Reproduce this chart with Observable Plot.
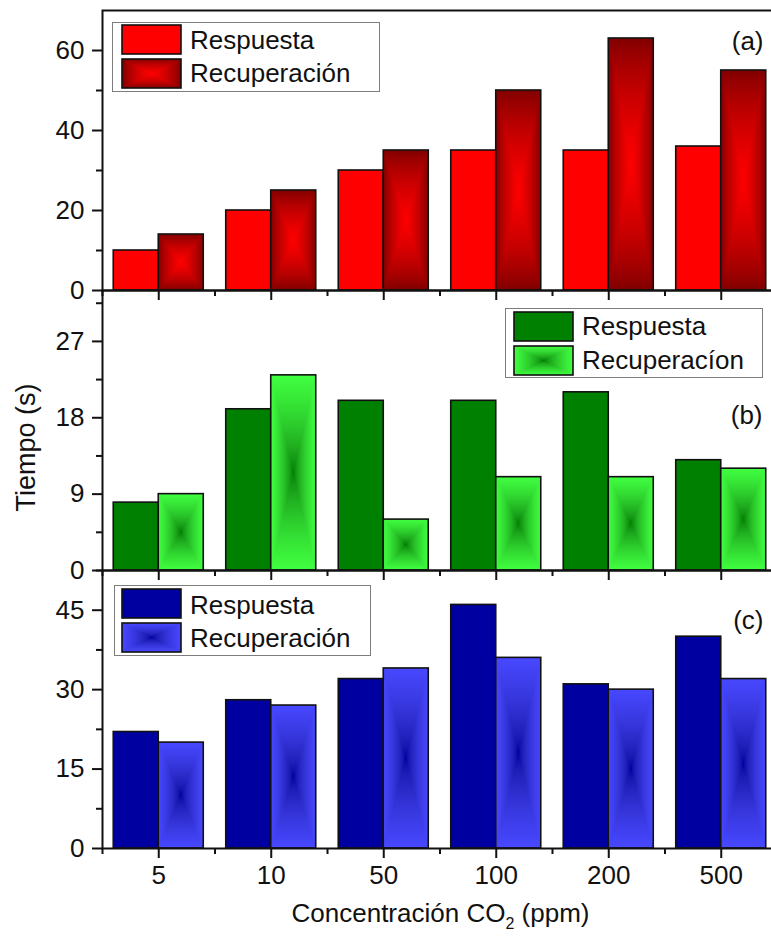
<!DOCTYPE html>
<html>
<head>
<meta charset="utf-8">
<script src="https://cdn.jsdelivr.net/npm/d3@7"></script>
<script src="https://cdn.jsdelivr.net/npm/@observablehq/plot@0.6"></script>
<style>
  body { margin: 0; background: #fff; overflow: hidden; }
  #chart { position: relative; width: 771px; height: 937px; overflow: hidden;
           font-family: "Liberation Sans", Arial, sans-serif; color: #111; }
  #chart > svg { position: absolute; left: 0; }
  .legend { position: absolute; box-sizing: border-box; border: 1px solid #7d7d7d; background: #fff; }
  .legend svg { position: absolute; }
  .legend span { position: absolute; font-size: 26px; line-height: 26px; white-space: nowrap; }
  #xtitle { position: absolute; left: 0; width: 881px; top: 900px; text-align: center;
            font-size: 26px; line-height: 26px; white-space: nowrap; }
  #xtitle sub { font-size: 16px; vertical-align: -7px; line-height: 0; }
</style>
</head>
<body>
<div id="chart"></div>
<script>
// Concentraciones de CO2 ensayadas (ppm)
const concentraciones = ["5", "10", "50", "100", "200", "500"];

// (a) tiempos en segundos
const respuestaA    = [10, 20, 30, 35, 35, 36];
const recuperacionA = [14, 25, 35, 50, 63, 55];
// (b)
const respuestaB    = [8, 19, 20, 20, 21, 13];
const recuperacionB = [9, 23, 6, 11, 11, 12];
// (c)
const respuestaC    = [22, 28, 32, 46, 31, 40];
const recuperacionC = [20, 27, 34, 36, 30, 32];

// Marcas del eje Y de cada panel
const ticksA = [0, 20, 40, 60],  menoresA = [10, 30, 50],            dominioA = [0, 70];
const ticksB = [0, 9, 18, 27],   menoresB = [4.5, 13.5, 22.5, 31.5], dominioB = [0, 33];
const ticksC = [0, 15, 30, 45],  menoresC = [7.5, 22.5, 37.5, 52.5], dominioC = [0, 52.5];

// ---- Rellenos con degradado rectangular (borde -> centro) ----
const defs = d3.select("body").append("svg")
  .attr("width", 0).attr("height", 0)
  .style("position", "absolute").style("left", 0).style("top", 0)
  .append("defs");

const toLin = c => { c /= 255; return c <= 0.04045 ? c / 12.92 : Math.pow((c + 0.055) / 1.055, 2.4); };
const toSrgb = v => 255 * (v <= 0.0031308 ? 12.92 * v : 1.055 * Math.pow(v, 1 / 2.4) - 0.055);
function mezcla(a, b, t) {
  const A = d3.rgb(a), B = d3.rgb(b);
  const f = k => Math.round(toSrgb(toLin(A[k]) * (1 - t) + toLin(B[k]) * t));
  return d3.rgb(f("r"), f("g"), f("b")).formatHex();
}

function degradadoCaja(id, borde, centro) {
  const pasos = d3.range(0, 11).map(k => k / 10);
  const dirs = { top: [0, 0, 0, 1], bottom: [0, 1, 0, 0], left: [0, 0, 1, 0], right: [1, 0, 0, 0] };
  for (const [k, [x1, y1, x2, y2]] of Object.entries(dirs)) {
    const g = defs.append("linearGradient").attr("id", `${id}-${k}`)
      .attr("x1", x1).attr("y1", y1).attr("x2", x2).attr("y2", y2);
    pasos.forEach(t => g.append("stop").attr("offset", t).attr("stop-color", mezcla(borde, centro, t)));
  }
  const p = defs.append("pattern").attr("id", id)
    .attr("patternUnits", "objectBoundingBox").attr("patternContentUnits", "objectBoundingBox")
    .attr("width", 1).attr("height", 1);
  const tri = { top: "0,0 1,0 0.5,0.5", bottom: "0,1 1,1 0.5,0.5", left: "0,0 0,1 0.5,0.5", right: "1,0 1,1 0.5,0.5" };
  for (const k of ["left", "right", "top", "bottom"]) {
    p.append("polygon").attr("points", tri[k]).attr("fill", `url(#${id}-${k})`)
      .attr("shape-rendering", "crispEdges");
  }
}
degradadoCaja("recA", "#800000", "#ff0000");
degradadoCaja("recB", "#40ff40", "#008000");
degradadoCaja("recC", "#4848ff", "#0000a0");

// ---- Paneles ----
const chart = document.getElementById("chart");
const indices = d3.range(concentraciones.length);

function panel({ respuesta, recuperacion, dominio, ticks, menores, colorResp, rellenoRec,
                 top, height, marginTop, marginBottom, etiqueta, etqDx, etqDy, conEtiquetasX, extra = [] }) {
  const filas = indices.flatMap(i => [
    { i, serie: "Respuesta", desde: i - 0.4, hasta: i, valor: respuesta[i] },
    { i, serie: "Recuperación", desde: i, hasta: i + 0.4, valor: recuperacion[i] }
  ]);
  const svg = Plot.plot({
    width: 771,
    height,
    marginLeft: 102,
    marginRight: -6,
    marginTop,
    marginBottom,
    x: { domain: [-0.5, 5.5] },
    y: { domain: dominio },
    style: {
      background: "transparent",
      overflow: "visible",
      fontFamily: "'Liberation Sans', Arial, sans-serif",
      fontSize: "26px",
      color: "#111"
    },
    marks: [
      Plot.rectY(filas, {
        x1: "desde", x2: "hasta", y1: 0, y2: "valor",
        fill: d => d.serie === "Respuesta" ? colorResp : rellenoRec,
        stroke: "#111", strokeWidth: 1.6
      }),
      Plot.frame({ stroke: "#111", strokeWidth: 2 }),
      Plot.axisY({ ticks, tickSize: 10, tickPadding: 8, strokeWidth: 2, label: null, fontSize: 26 }),
      Plot.axisY({ ticks: menores, tickSize: 6, tickFormat: () => "", strokeWidth: 2, label: null }),
      Plot.axisX({ ticks: indices, tickSize: 10, tickPadding: 7, strokeWidth: 2, label: null, fontSize: 26,
                   tickFormat: conEtiquetasX ? i => concentraciones[i] : () => "" }),
      Plot.axisX({ ticks: d3.range(-0.5, 6, 1), tickSize: 6, tickFormat: () => "", strokeWidth: 2, label: null }),
      Plot.text([etiqueta], { frameAnchor: "top-right", textAnchor: "end", lineAnchor: "middle",
                              dx: etqDx, dy: etqDy, fontSize: 26 }),
      ...extra
    ]
  });
  svg.style.top = top + "px";
  chart.appendChild(svg);
}

panel({ respuesta: respuestaA, recuperacion: recuperacionA, dominio: dominioA, ticks: ticksA, menores: menoresA,
        colorResp: "#ff0000", rellenoRec: "url(#recA)", top: 0, height: 290, marginTop: 10, marginBottom: 0,
        etiqueta: "(a)", etqDx: -14, etqDy: 31, conEtiquetasX: false });

panel({ respuesta: respuestaB, recuperacion: recuperacionB, dominio: dominioB, ticks: ticksB, menores: menoresB,
        colorResp: "#008000", rellenoRec: "url(#recB)", top: 290, height: 280, marginTop: 0, marginBottom: 0,
        etiqueta: "(b)", etqDx: -15, etqDy: 125, conEtiquetasX: false,
        extra: [Plot.text(["Tiempo (s)"], { frameAnchor: "left", textAnchor: "middle", lineAnchor: "middle",
                                             rotate: -90, dx: -76, dy: 17, fontSize: 27 })] });

panel({ respuesta: respuestaC, recuperacion: recuperacionC, dominio: dominioC, ticks: ticksC, menores: menoresC,
        colorResp: "#0000a0", rellenoRec: "url(#recC)", top: 570, height: 330, marginTop: 0, marginBottom: 52,
        etiqueta: "(c)", etqDx: -14, etqDy: 50, conEtiquetasX: true });

// ---- Leyendas ----
function leyenda({ left, top, width, height, colorResp, rellenoRec, textoRec, swX, swY1, swY2, txX, txY1, txY2 }) {
  const box = document.createElement("div");
  box.className = "legend";
  Object.assign(box.style, { left: left + "px", top: top + "px", width: width + "px", height: height + "px" });
  const muestra = (y, fill) => {
    const s = d3.create("svg").attr("width", 62).attr("height", 32)
      .style("left", (swX - left - 2) + "px").style("top", (y - top - 2) + "px");
    s.append("rect").attr("x", 1).attr("y", 1).attr("width", 59).attr("height", 29)
      .attr("fill", fill).attr("stroke", "#111").attr("stroke-width", 1.6);
    box.appendChild(s.node());
  };
  const texto = (y, t) => {
    const sp = document.createElement("span");
    sp.textContent = t;
    sp.style.left = (txX - left - 1) + "px";
    sp.style.top = (y - top - 1 - 12.7) + "px";
    box.appendChild(sp);
  };
  muestra(swY1, colorResp);
  muestra(swY2, rellenoRec);
  texto(txY1, "Respuesta");
  texto(txY2, textoRec);
  chart.appendChild(box);
}

leyenda({ left: 112, top: 22, width: 268, height: 70, colorResp: "#ff0000", rellenoRec: "url(#recA)",
          textoRec: "Recuperación", swX: 122, swY1: 25, swY2: 59, txX: 190, txY1: 40, txY2: 73 });
leyenda({ left: 505, top: 308, width: 258, height: 70, colorResp: "#008000", rellenoRec: "url(#recB)",
          textoRec: "Recuperacíon", swX: 514, swY1: 312, swY2: 346, txX: 582, txY1: 326, txY2: 360 });
leyenda({ left: 114, top: 585, width: 257, height: 71, colorResp: "#0000a0", rellenoRec: "url(#recC)",
          textoRec: "Recuperación", swX: 122, swY1: 589, swY2: 623, txX: 190, txY1: 605, txY2: 638 });

// ---- Título del eje X ----
const xt = document.createElement("div");
xt.id = "xtitle";
xt.innerHTML = "Concentración CO<sub>2</sub> (ppm)";
chart.appendChild(xt);
</script>
</body>
</html>
